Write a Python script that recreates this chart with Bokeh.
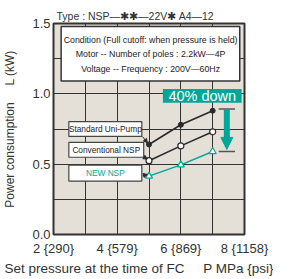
from bokeh.plotting import figure
from bokeh.models import FixedTicker, Label, BoxAnnotation, Arrow, NormalHead, Title
from bokeh.embed import file_html
from bokeh.resources import INLINE

# ---- data ----
pressure = [5, 6, 7]
standard = [0.64, 0.78, 0.88]
conventional = [0.525, 0.63, 0.73]
new_nsp = [0.415, 0.495, 0.59]
series_names = ["Standard Uni-Pump", "Conventional NSP", "NEW NSP"]
x_ticks = [2, 4, 6, 8]
x_tick_labels = ["2 {290}", "4 {579}", "6 {869}", "8 {1158}"]
y_ticks = [0, 0.5, 1.0, 1.5]
y_tick_labels = ["0.0", "0.5", "1.0", "1.5"]
condition_lines = ["Condition (Full cutoff: when pressure is held)",
                   "Motor -- Number of poles : 2.2kW\u20144P",
                   "Voltage -- Frequency : 200V\u201460Hz"]
type_text = "Type : NSP\u2014\u2731\u2731\u201422V\u2731 A4\u201412"
x_label = "Set pressure at the time of FC" + "\u00a0" * 5 + "P MPa {psi}"
y_label = "Power consumption" + "\u00a0" * 5 + "L (kW)"

TEAL = "#00a698"
DARK = "#2a2a2a"
BG = "#e4dfd7"
FONT = "Liberation Sans"

p = figure(width=273, height=279, x_range=(2, 8), y_range=(0, 1.5),
           output_backend="svg", toolbar_location=None,
           min_border_left=45, min_border_right=29,
           min_border_top=23, min_border_bottom=43)
p.background_fill_color = BG
p.border_fill_color = "white"
p.outline_line_color = "#333333"
p.outline_line_width = 2

p.xgrid.ticker = FixedTicker(ticks=[3, 4, 5, 6, 7])
p.ygrid.ticker = FixedTicker(ticks=[0.25, 0.5, 0.75, 1.0, 1.25])
for g in (p.xgrid, p.ygrid):
    g.grid_line_color = "#333333"
    g.grid_line_width = 1

p.xaxis.ticker = FixedTicker(ticks=x_ticks)
p.xaxis.major_label_overrides = {t: l for t, l in zip(x_ticks, x_tick_labels)}
p.yaxis.ticker = FixedTicker(ticks=y_ticks)
p.yaxis.major_label_overrides = {t: l for t, l in zip(y_ticks, y_tick_labels)}
for ax in (p.xaxis, p.yaxis):
    ax.axis_line_color = None
    ax.major_tick_line_color = None
    ax.minor_tick_line_color = None
    ax.major_tick_out = 0
    ax.major_tick_in = 0
    ax.minor_tick_out = 0
    ax.minor_tick_in = 0
    ax.major_label_text_font = FONT
    ax.major_label_text_font_size = "13px"
    ax.major_label_text_color = "#333333"
p.xaxis.major_label_standoff = 6
p.yaxis.major_label_standoff = 3
p.yaxis.axis_label = y_label
p.yaxis.axis_label_text_font = FONT
p.yaxis.axis_label_text_font_size = "12px"
p.yaxis.axis_label_text_font_style = "normal"
p.yaxis.axis_label_text_color = "#333333"
p.yaxis.axis_label_standoff = 12

# ---- titles (outside the frame) ----
p.title.text = type_text
p.title.align = "left"
p.title.offset = 3
p.title.standoff = 3
p.title.text_font = FONT
p.title.text_font_size = "10.5px"
p.title.text_font_style = "normal"
p.title.text_color = "#333333"

xt = Title(text=x_label, align="left", vertical_align="top", offset=-49, standoff=4,
           text_font=FONT, text_font_size="13.5px", text_font_style="normal",
           text_color="#333333")
p.add_layout(xt, "below")

# ---- series ----
p.line(pressure, standard, line_color=DARK, line_width=1.6)
p.scatter(pressure, standard, marker="circle", size=5, fill_color=DARK, line_color=DARK)
p.line(pressure, conventional, line_color=DARK, line_width=1.6)
p.scatter(pressure, conventional, marker="circle", size=6, fill_color="white",
          line_color=DARK, line_width=1.2)
p.line(pressure, new_nsp, line_color=TEAL, line_width=1.4)
p.scatter(pressure, new_nsp, marker="triangle", size=7, fill_color="white",
          line_color=TEAL, line_width=1.2)

# ---- condition box ----
p.add_layout(BoxAnnotation(left=2.24, right=7.85, bottom=1.092, top=1.479,
                           fill_color="white", fill_alpha=1, line_color="#333333",
                           line_alpha=1, line_width=1.5))
for txt, yy in zip(condition_lines, [1.380, 1.282, 1.176]):
    p.add_layout(Label(x=5.05, y=yy, text=txt, text_align="center", text_baseline="middle",
                       text_font=FONT, text_font_size="8.8px", text_color="#222222"))

# ---- 40% down ----
p.add_layout(BoxAnnotation(left=5.437, right=7.909, bottom=0.937, top=1.035,
                           fill_color=TEAL, fill_alpha=1, line_alpha=0))
p.add_layout(Label(x=6.673, y=0.986, text="40% down", text_align="center", text_baseline="middle",
                   text_font=FONT, text_font_size="14.5px", text_color="white"))

top_y = standard[-1] + 0.012
bot_y = new_nsp[-1]
for yy in (top_y, bot_y):
    p.add_layout(Arrow(end=None, x_start=7.19, y_start=yy, x_end=7.70, y_end=yy,
                       line_color="#555555", line_width=1.5))
p.add_layout(Arrow(end=None, x_start=7.445, y_start=top_y, x_end=7.445, y_end=bot_y + 0.085,
                   line_color=TEAL, line_width=6))
p.add_layout(Arrow(end=NormalHead(size=12, fill_color=TEAL, line_color=TEAL),
                   x_start=7.445, y_start=bot_y + 0.03, x_end=7.445, y_end=bot_y + 0.015,
                   line_color=TEAL, line_alpha=0, line_width=1))

# ---- series label boxes ----
box_left = [2.482, 2.482, 2.482]
box_right = [4.774, 4.834, 4.774]
box_top = [0.803, 0.655, 0.493]
box_bottom = [0.697, 0.549, 0.380]
text_colors = ["#222222", "#222222", TEAL]
lead_start = [(4.80, 0.695), (4.86, 0.548), (4.80, 0.418)]
for i, name in enumerate(series_names):
    p.add_layout(BoxAnnotation(left=box_left[i], right=box_right[i], bottom=box_bottom[i], top=box_top[i],
                               fill_color="white", fill_alpha=1, line_color="#444444",
                               line_alpha=1, line_width=1.2))
    p.add_layout(Label(x=(box_left[i] + box_right[i]) / 2, y=(box_top[i] + box_bottom[i]) / 2,
                       text=name, text_align="center", text_baseline="middle",
                       text_font=FONT, text_font_size="8.3px", text_color=text_colors[i]))
series_vals = [standard, conventional, new_nsp]
for (xs, ys), vals in zip(lead_start, series_vals):
    p.add_layout(Arrow(end=NormalHead(size=4, fill_color=DARK, line_color=DARK),
                       x_start=xs, y_start=ys, x_end=pressure[0] - 0.05, y_end=vals[0] + 0.012,
                       line_color=DARK, line_width=1))

open("out.html", "w").write(file_html(p, INLINE))
